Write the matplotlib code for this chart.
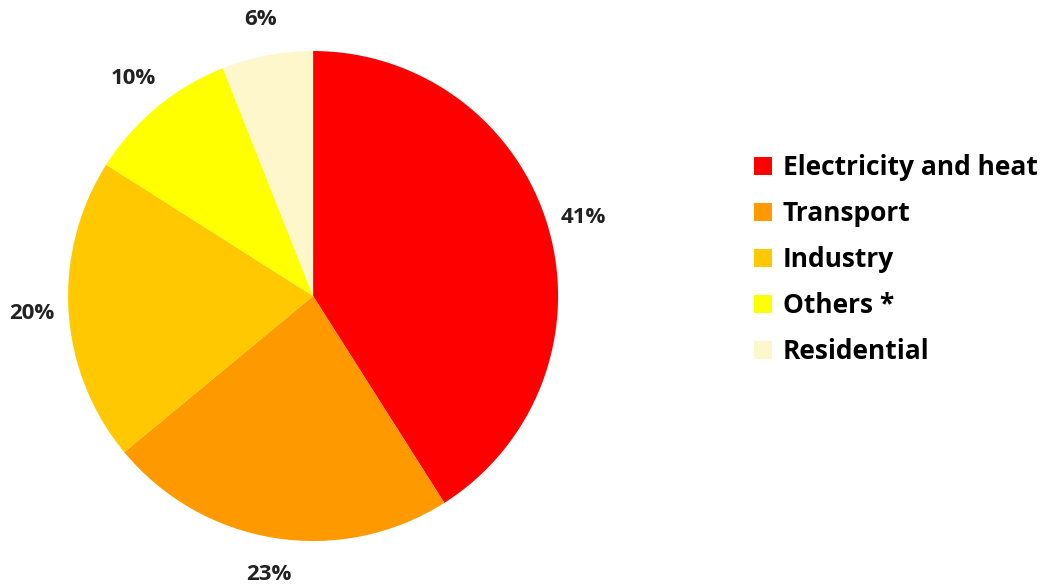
import matplotlib.pyplot as plt
import numpy as np

# data
sectors = ['Electricity and heat', 'Transport', 'Industry', 'Others *', 'Residential']
shares = [41, 23, 20, 10, 6]
colors = ['#FF0000', '#FF9900', '#FFC800', '#FFFF00', '#FFF7CC']

plt.rcParams['font.family'] = ['Open Sans', 'DejaVu Sans']

fig = plt.figure(figsize=(10.45, 5.85), dpi=100)
ax = fig.add_axes([0.0651, 0.0752, 0.469, 0.8376])

wedges, texts, autotexts = ax.pie(
    shares, colors=colors, startangle=90, counterclock=False,
    autopct='%1.0f%%', pctdistance=1.15,
    textprops=dict(fontsize=16, fontweight='bold', color='#222222'))
ax.set_xlim(-1, 1)
ax.set_ylim(-1, 1)
ax.set_aspect('equal')

fig.legend(wedges, sectors, loc='upper left', bbox_to_anchor=(0.699, 0.777),
           frameon=False, handlelength=0.68, handleheight=0.68, handletextpad=0.4,
           labelspacing=0.72, prop=dict(size=19, weight='bold'))

fig.savefig('out.png', dpi=100)
